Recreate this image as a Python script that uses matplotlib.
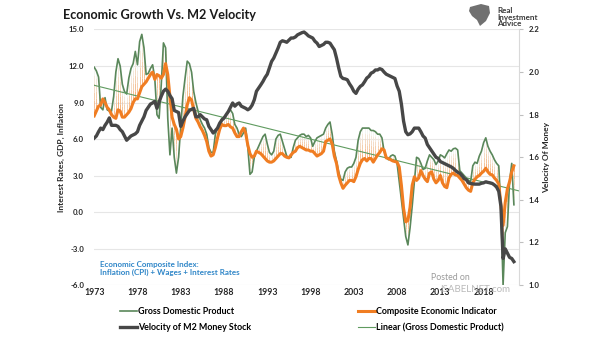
import numpy as np
import matplotlib.pyplot as plt
from matplotlib.collections import LineCollection
from matplotlib.colors import to_rgba
from matplotlib.patches import Polygon

# Квартальные данные, 1973 Q1 .. 2021 Q3
years = 1973 + np.arange(195) / 4.0

# ВВП, % г/г
gdp = [
    11.9, 11.6, 11.1, 8.6,   # 1973
    8.4, 9.4, 8.4, 8.3,      # 1974
    8.3, 9.5, 11.5, 12.6,    # 1975
    12.0, 10.5, 9.9, 9.7,    # 1976
    11.0, 11.8, 12.2, 13.2,  # 1977
    12.1, 14.0, 14.6, 13.5,  # 1978
    11.3, 11.4, 11.8, 12.1,  # 1979
    11.0, 8.0, 7.7, 10.5,    # 1980
    13.9, 13.5, 7.7, 4.7,    # 1981
    6.9, 4.5, 3.2, 4.5,      # 1982
    7.0, 9.5, 11.0, 12.4,    # 1983
    12.2, 11.5, 9.9, 9.0,    # 1984
    8.3, 7.6, 7.2, 6.9,      # 1985
    6.4, 5.3, 4.9, 4.9,      # 1986
    6.4, 6.9, 7.2, 7.7,      # 1987
    7.8, 8.0, 8.2, 8.4,      # 1988
    8.1, 7.2, 6.9, 6.4,      # 1989
    6.2, 6.5, 6.9, 5.3,      # 1990
    3.1, 3.3, 4.5, 5.0,      # 1991
    5.4, 5.8, 6.2, 6.4,      # 1992
    5.6, 4.9, 4.7, 5.0,      # 1993
    6.0, 6.3, 6.4, 5.8,      # 1994
    5.2, 4.6, 4.5, 4.5,      # 1995
    5.3, 5.9, 6.1, 6.3,      # 1996
    6.4, 6.4, 6.2, 6.3,      # 1997
    6.1, 5.4, 5.8, 6.1,      # 1998
    6.2, 6.3, 6.4, 6.9,      # 1999
    7.2, 7.4, 6.4, 5.0,      # 2000
    4.2, 3.3, 2.7, 2.6,      # 2001
    3.3, 3.6, 3.7, 3.7,      # 2002
    4.0, 4.5, 5.9, 6.6,      # 2003
    6.9, 6.9, 6.9, 6.9,      # 2004
    6.7, 6.7, 6.6, 6.4,      # 2005
    6.4, 6.1, 5.0, 4.5,      # 2006
    4.3, 4.6, 4.7, 4.6,      # 2007
    4.0, 2.5, 1.0, -0.5,     # 2008
    -2.0, -2.7, -1.3, 0.5,   # 2009
    2.5, 4.5, 4.4, 4.0,      # 2010
    3.5, 3.6, 4.2, 4.7,      # 2011
    4.5, 4.3, 3.9, 4.2,      # 2012
    4.7, 4.6, 4.45, 4.8,     # 2013
    5.1, 5.0, 5.2, 5.25,     # 2014
    5.1, 3.4, 3.2, 3.0,      # 2015
    2.8, 2.6, 2.5, 3.8,      # 2016
    4.1, 4.0, 4.6, 5.0,      # 2017
    5.7, 6.1, 5.4, 5.0,      # 2018
    4.7, 4.3, 4.0, 3.8,      # 2019
    0.3, -6.0, -1.7, -1.2,   # 2020
    2.5, 4.0, 0.6,           # 2021
]

# Композитный индикатор: инфляция + зарплаты + ставки
composite = [
    7.9, 8.3, 8.7, 8.8,      # 1973
    9.3, 9.0, 8.6, 8.4,      # 1974
    8.0, 7.8, 7.7, 8.4,      # 1975
    8.3, 7.8, 7.8, 8.0,      # 1976
    8.2, 8.5, 9.0, 9.3,      # 1977
    9.3, 9.8, 10.3, 10.5,    # 1978
    10.7, 11.0, 11.3, 11.5,  # 1979
    10.9, 11.3, 11.2, 11.0,  # 1980
    11.3, 12.2, 11.3, 9.5,   # 1981
    7.8, 7.2, 6.8, 6.0,      # 1982
    6.2, 6.9, 7.8, 8.8,      # 1983
    9.4, 9.2, 8.4, 7.7,      # 1984
    7.4, 7.0, 6.7, 6.3,      # 1985
    5.8, 5.0, 4.6, 4.7,      # 1986
    5.3, 6.1, 6.8, 7.2,      # 1987
    7.1, 7.1, 7.2, 7.0,      # 1988
    6.9, 6.5, 6.2, 6.2,      # 1989
    6.6, 6.9, 6.5, 5.5,      # 1990
    4.8, 4.5, 4.6, 5.0,      # 1991
    4.9, 4.8, 4.6, 4.4,      # 1992
    4.2, 4.1, 4.1, 4.2,      # 1993
    4.4, 4.6, 4.8, 4.8,      # 1994
    4.6, 4.5, 4.45, 4.7,     # 1995
    4.9, 5.0, 5.3, 5.4,      # 1996
    5.3, 5.2, 5.1, 5.1,      # 1997
    5.0, 5.0, 4.8, 4.6,      # 1998
    4.7, 4.8, 5.0, 5.8,      # 1999
    5.9, 6.0, 5.6, 4.6,      # 2000
    4.0, 3.0, 2.4, 1.95,     # 2001
    2.2, 2.4, 2.6, 2.6,      # 2002
    2.5, 2.9, 3.5, 4.0,      # 2003
    4.3, 4.4, 4.2, 4.4,      # 2004
    4.4, 4.1, 4.4, 4.7,      # 2005
    4.9, 5.2, 5.1, 4.45,     # 2006
    4.4, 4.3, 4.2, 4.15,     # 2007
    4.1, 3.7, 2.2, 0.3,      # 2008
    -0.8, -0.7, 0.4, 2.2,    # 2009
    2.9, 2.6, 2.8, 3.4,      # 2010
    3.0, 2.7, 2.5, 3.2,      # 2011
    3.3, 2.7, 2.4, 2.6,      # 2012
    3.0, 2.4, 2.1, 2.0,      # 2013
    2.8, 3.1, 3.2, 3.05,     # 2014
    3.0, 2.8, 2.6, 2.3,      # 2015
    2.0, 1.8, 1.7, 2.4,      # 2016
    2.7, 2.9, 3.0, 3.2,      # 2017
    3.35, 3.6, 3.3, 3.1,     # 2018
    3.05, 2.8, 2.6, 2.3,     # 2019
    0.6, -1.1, 0.8, 1.9,     # 2020
    2.5, 3.3, 3.8,           # 2021
]

# Скорость обращения денежной массы M2
velocity = [
    1.69, 1.70, 1.72, 1.737,     # 1973
    1.73, 1.75, 1.765, 1.785,    # 1974
    1.75, 1.75, 1.75, 1.745,     # 1975
    1.73, 1.72, 1.70, 1.68,      # 1976
    1.69, 1.70, 1.705, 1.71,     # 1977
    1.72, 1.75, 1.77, 1.79,      # 1978
    1.82, 1.835, 1.85, 1.855,    # 1979
    1.863, 1.83, 1.86, 1.887,    # 1980
    1.91, 1.92, 1.91, 1.89,      # 1981
    1.875, 1.82, 1.815, 1.81,    # 1982
    1.745, 1.77, 1.79, 1.805,    # 1983
    1.82, 1.825, 1.83, 1.79,     # 1984
    1.79, 1.80, 1.79, 1.78,      # 1985
    1.776, 1.745, 1.73, 1.714,   # 1986
    1.725, 1.737, 1.76, 1.775,   # 1987
    1.784, 1.80, 1.815, 1.835,   # 1988
    1.855, 1.84, 1.85, 1.855,    # 1989
    1.84, 1.835, 1.83, 1.823,    # 1990
    1.83, 1.845, 1.87, 1.91,     # 1991
    1.925, 1.94, 1.956, 1.975,   # 1992
    1.99, 2.02, 2.05, 2.066,     # 1993
    2.09, 2.113, 2.14, 2.147,    # 1994
    2.144, 2.14, 2.15, 2.16,     # 1995
    2.16, 2.165, 2.175, 2.18,    # 1996
    2.185, 2.188, 2.18, 2.17,    # 1997
    2.165, 2.16, 2.145, 2.136,   # 1998
    2.12, 2.125, 2.13, 2.14,     # 1999
    2.14, 2.136, 2.12, 2.105,    # 2000
    2.066, 2.02, 1.98, 1.97,     # 2001
    1.968, 1.964, 1.945, 1.93,   # 2002
    1.91, 1.90, 1.92, 1.933,     # 2003
    1.94, 1.955, 1.972, 1.98,    # 2004
    1.995, 2.0, 2.01, 2.01,      # 2005
    2.016, 2.012, 2.0, 1.99,     # 2006
    1.985, 1.98, 1.975, 1.97,    # 2007
    1.935, 1.91, 1.85, 1.77,     # 2008
    1.72, 1.706, 1.71, 1.72,     # 2009
    1.737, 1.737, 1.737, 1.72,   # 2010
    1.70, 1.69, 1.66, 1.645,     # 2011
    1.63, 1.615, 1.60, 1.595,    # 2012
    1.58, 1.575, 1.57, 1.565,    # 2013
    1.56, 1.555, 1.548, 1.538,   # 2014
    1.53, 1.525, 1.514, 1.50,    # 2015
    1.495, 1.48, 1.477, 1.475,   # 2016
    1.474, 1.474, 1.474, 1.478,  # 2017
    1.48, 1.485, 1.482, 1.48,    # 2018
    1.477, 1.47, 1.46, 1.44,     # 2019
    1.37, 1.125, 1.17, 1.15,     # 2020
    1.13, 1.125, 1.11,           # 2021
]

tick_years = [1973, 1978, 1983, 1988, 1993, 1998, 2003, 2008, 2013, 2018]
left_ticks = [-6, -3, 0, 3, 6, 9, 12, 15]
right_ticks = [1.0, 1.2, 1.4, 1.6, 1.8, 2.0, 2.2]

GREEN = '#5a875a'
ORANGE = '#f07d22'
DARK = '#474747'
TXT = '#262626'
FONT = ['Lato', 'DejaVu Sans']

plt.rcParams['font.family'] = FONT

g = np.array(gdp)
c = np.array(composite)

fig = plt.figure(figsize=(6.05, 3.41), dpi=100)
ax = fig.add_axes([0.155, 0.164, 0.703, 0.7495])

# Штриховка между ВВП и композитным индикатором (градиент от оранжевого)
segs, cols = [], []
n = 6
c0 = np.array(to_rgba('#f5a769'))
c1 = np.array(to_rgba('#f1f5f1'))
for x, a, b in zip(years, c, g):
    pts = np.linspace(a, b, n + 1)
    for k in range(n):
        segs.append([(x, pts[k]), (x, pts[k + 1])])
        t = k / (n - 1)
        cols.append(c0 * (1 - t) + c1 * t)
ax.add_collection(LineCollection(segs, colors=cols, linewidths=0.6, zorder=1))

l_gdp, = ax.plot(years, g, color=GREEN, lw=1.2, zorder=2,
                 label='Gross Domestic Product')

# Линейный тренд ВВП
coef = np.polyfit(years, g, 1)
tx = np.array([years[0], 2022.1])
l_lin, = ax.plot(tx, np.polyval(coef, tx), color='#5f9b5f', lw=0.8, zorder=3,
                 label='Linear (Gross Domestic Product)')

l_comp, = ax.plot(years, c, color=ORANGE, lw=2.2, zorder=4,
                  label='Composite Economic Indicator')

ax.set_xlim(1972.95, 2022.1)
ax.set_ylim(-6, 15)
ax.set_yticks(left_ticks)
ax.set_yticklabels(['%.1f' % v for v in left_ticks])
ax.set_xticks(tick_years)
ax.set_xticklabels([str(y) for y in tick_years])
ax.grid(axis='y', color='#e6e6e6', lw=0.8)
ax.set_axisbelow(True)
for s in ax.spines.values():
    s.set_visible(False)
ax.tick_params(axis='both', length=0, colors=TXT)
ax.tick_params(axis='y', pad=7, labelsize=5.6)
ax.tick_params(axis='x', pad=2, labelsize=6.3)
for lab in ax.get_xticklabels() + ax.get_yticklabels():
    lab.set_fontweight('bold')
ax.set_ylabel('Interest Rates, GDP, Inflation', fontsize=6, fontweight='bold',
              color=TXT, labelpad=3)

# Правая ось: скорость обращения M2
ax2 = ax.twinx()
l_vel, = ax2.plot(years, velocity, color=DARK, lw=2.4, zorder=5,
                  label='Velocity of M2 Money Stock')
ax2.set_ylim(1.0, 2.2)
ax2.set_yticks(right_ticks)
ax2.set_yticklabels(['%.1f' % v for v in right_ticks])
for s in ax2.spines.values():
    s.set_visible(False)
ax2.spines['right'].set_visible(True)
ax2.spines['right'].set_color('#d9d9d9')
ax2.tick_params(axis='y', length=3, color='#bfbfbf', labelsize=5.6, colors=TXT, pad=4)
for lab in ax2.get_yticklabels():
    lab.set_fontweight('bold')
ax2.set_ylabel('Velocity Of Money', fontsize=6, fontweight='bold', color=TXT,
               labelpad=2)

fig.text(0.104, 0.955, 'Economic Growth Vs. M2 Velocity', fontsize=9.1,
         fontweight='bold', color='#1a1a1a', va='center')

# Логотип: щит с птицей и подпись
shield = [(470, 7), (481, 4), (489, 6), (490, 13), (486, 21), (480, 26),
          (477, 20), (472, 16), (469, 11)]
fig.patches.append(Polygon([(x / 605, 1 - y / 341) for x, y in shield], closed=True,
                           transform=fig.transFigure, facecolor='#707070',
                           edgecolor='none'))
fig.text(0.822, 0.950, 'Real\nInvestment\nAdvice', fontsize=5.8, fontweight='bold',
         color='#3a3a3a', va='center', linespacing=0.95)

ax.text(1973.7, -4.65, 'Economic Composite Index:\nInflation (CPI) + Wages + Interest Rates',
        fontsize=5.8, fontweight='bold', color='#2f86c8', va='center', linespacing=1.2)

fig.text(0.744, 0.185, 'Posted on', fontsize=6.3, color='#9a9a9a', ha='center',
         va='center')
fig.text(0.785, 0.152, 'ISABELNET.com', fontsize=7, color='#a8a8a8', ha='center',
         va='center', alpha=0.8)

fig.legend(handles=[l_gdp, l_vel, l_comp, l_lin], ncol=2, loc='center left',
           bbox_to_anchor=(0.185, 0.062), frameon=False,
           prop={'weight': 'bold', 'size': 6.4, 'family': FONT},
           handlelength=1.95, handletextpad=0.1, columnspacing=12.0,
           labelspacing=0.8)

fig.savefig('out.png', dpi=100, facecolor='white')
